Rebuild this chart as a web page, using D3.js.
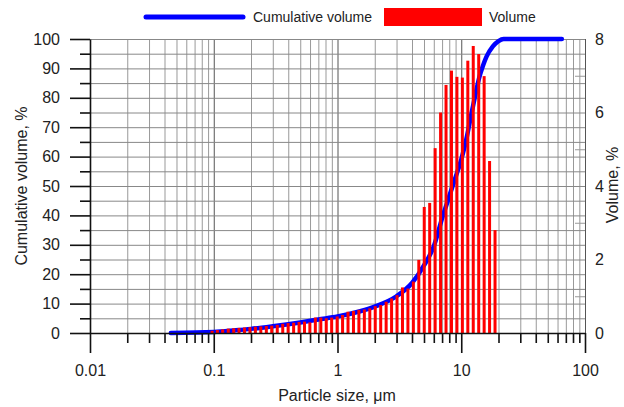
<!DOCTYPE html>
<html>
<head>
<meta charset="utf-8">
<script src="https://cdn.jsdelivr.net/npm/d3@7"></script>
<style>
  body { margin: 0; background: #fff; }
  svg { display: block; font-family: "Liberation Sans", Arial, sans-serif; }
  .lbl text { fill: #222; font-size: 16px; }
</style>
</head>
<body>
<script>
/*--- datos ---*/
// particle size of each bin, um
let binSize = [0.097, 0.107, 0.118, 0.131, 0.145, 0.160, 0.177, 0.196, 0.217, 0.240,
               0.266, 0.294, 0.326, 0.361, 0.399, 0.442, 0.489, 0.541, 0.598, 0.662,
               0.733, 0.811, 0.897, 0.993, 1.099, 1.216, 1.346, 1.489, 1.648, 1.824,
               2.018, 2.234, 2.472, 2.735, 3.027, 3.350, 3.707, 4.102, 4.539, 5.023,
               5.559, 6.152, 6.808, 7.534, 8.337, 9.226, 10.21, 11.30, 12.50, 13.84,
               15.31, 16.94, 18.75];
// volume, %
let binVolume = [0.06, 0.08, 0.10, 0.12, 0.13, 0.14, 0.15, 0.16, 0.17, 0.18,
                 0.19, 0.20, 0.22, 0.25, 0.27, 0.28, 0.30, 0.31, 0.29, 0.42,
                 0.42, 0.40, 0.42, 0.45, 0.49, 0.58, 0.60, 0.63, 0.64, 0.67,
                 0.73, 0.76, 0.85, 0.94, 1.03, 1.24, 1.21, 1.40, 1.99, 3.43,
                 3.54, 5.03, 6.00, 6.75, 7.14, 6.97, 6.95, 7.41, 7.81, 7.59,
                 6.99, 4.68, 2.80];

// cumulative volume curve
let cumSize  = [0.045, 0.1, 0.15, 0.2, 0.3, 0.4, 0.5, 0.7, 1, 1.5, 2, 3, 4, 5, 6, 7, 8, 9,
                10, 11, 12, 13, 14, 15, 16, 18, 20, 22, 30, 50, 65];
let cumValue = [0, 0.3, 0.9, 1.4, 2.3, 3.0, 3.6, 4.6, 5.6, 7.3, 9.0, 12.5, 17, 23, 29.5, 39, 46.5, 53,
                59, 66, 74, 81, 87, 91, 94, 97.5, 99.3, 100, 100, 100, 100];

let xTicks = [0.01, 0.1, 1, 10, 100];
let yTicks = [0, 10, 20, 30, 40, 50, 60, 70, 80, 90, 100];
let y2Ticks = [0, 2, 4, 6, 8];

/*--- escalas ---*/
let width = 624, height = 407;
let X = d3.scaleLog().domain([0.01, 100]).range([90, 585]);
let Y = d3.scaleLinear().domain([0, 100]).range([333, 39]);
let Y2 = d3.scaleLinear().domain([0, 8]).range([333, 39]);

let minorX = [];
[0.01, 0.1, 1, 10].forEach(function(d) {
    for (let i = 1; i <= 9; i++) minorX.push(+(d * i).toPrecision(2));
});
minorX.push(100);

let svg = d3.select("body").append("svg")
    .attr("width", width)
    .attr("height", height);

/*--- grid ---*/
let gridX = svg.append("g")
    .attr("transform", "translate(0,333)")
    .call(d3.axisBottom(X).tickValues(minorX).tickSize(-(333 - 39)).tickFormat(""));
gridX.select(".domain").remove();
gridX.selectAll("line")
    .attr("stroke", function(d) { return xTicks.indexOf(d) >= 0 ? "#555" : "#999"; })
    .attr("stroke-width", 1);

let gridY = svg.append("g")
    .attr("transform", "translate(90,0)")
    .call(d3.axisLeft(Y).tickValues(d3.range(5, 101, 5)).tickSize(-(585 - 90)).tickFormat(""));
gridY.select(".domain").remove();
gridY.selectAll("line").attr("stroke", "#888").attr("stroke-width", 1);

/*--- cumulative line ---*/
let linea = d3.line()
    .x(function(d, i) { return X(cumSize[i]); })
    .y(function(d) { return Y(d); })
    .curve(d3.curveMonotoneX);

svg.append("path")
    .datum(cumValue)
    .attr("fill", "none")
    .attr("stroke", "#0000ff")
    .attr("stroke-width", 4.5)
    .attr("stroke-linejoin", "round")
    .attr("stroke-linecap", "round")
    .attr("d", linea);

/*--- bars ---*/
svg.append("g").selectAll("rect")
    .data(binVolume)
    .join("rect")
    .attr("x", function(d, i) { return X(binSize[i]) - 1.5; })
    .attr("width", 3)
    .attr("y", function(d) { return Y2(d); })
    .attr("height", function(d) { return Y2(0) - Y2(d); })
    .attr("fill", "#ff0000");

/*--- ejes ---*/
// x
let xAxis = svg.append("g").attr("class", "lbl")
    .attr("transform", "translate(0,333)")
    .call(d3.axisBottom(X).tickValues(xTicks).tickSize(20).tickSizeOuter(0).tickPadding(12)
        .tickFormat(function(d) { return String(d); }));
let xMinor = svg.append("g")
    .attr("transform", "translate(0,333)")
    .call(d3.axisBottom(X).tickValues(minorX.filter(function(d) { return xTicks.indexOf(d) < 0; }))
        .tickSize(10).tickSizeOuter(0).tickFormat(""));
xMinor.select(".domain").remove();

// y izquierda
let yAxis = svg.append("g").attr("class", "lbl")
    .attr("transform", "translate(90,0)")
    .call(d3.axisLeft(Y).tickValues(yTicks).tickSize(20).tickSizeOuter(0).tickPadding(10));
let yMinor = svg.append("g")
    .attr("transform", "translate(90,0)")
    .call(d3.axisLeft(Y).tickValues(d3.range(5, 100, 10)).tickSize(10).tickFormat(""));
yMinor.select(".domain").remove();

[xAxis, xMinor, yAxis, yMinor].forEach(function(g) {
    g.selectAll("line, path").attr("stroke", "#111").attr("stroke-width", 1.6);
});

// y derecha
let y2Axis = svg.append("g").attr("class", "lbl")
    .attr("transform", "translate(585,0)")
    .call(d3.axisRight(Y2).tickValues(y2Ticks).tickSize(0).tickPadding(10));
y2Axis.select(".domain").remove();
let y2Minor = svg.append("g")
    .attr("transform", "translate(585,0)")
    .call(d3.axisLeft(Y2).tickValues([1, 3, 5, 7]).tickSize(10).tickFormat(""));
y2Minor.select(".domain").remove();
y2Minor.selectAll("line").attr("stroke", "#999");

svg.selectAll(".lbl text").attr("fill", "#222").style("font-size", "16px");

/*--- titulos ---*/
svg.append("text")
    .attr("transform", "translate(27,186) rotate(-90)")
    .attr("text-anchor", "middle")
    .attr("fill", "#222").style("font-size", "16px")
    .text("Cumulative volume, %");
svg.append("text")
    .attr("transform", "translate(618,185) rotate(-90)")
    .attr("text-anchor", "middle")
    .attr("fill", "#222").style("font-size", "16px")
    .text("Volume, %");
svg.append("text")
    .attr("x", 337).attr("y", 401)
    .attr("text-anchor", "middle")
    .attr("fill", "#222").style("font-size", "16px")
    .text("Particle size, μm");

/*--- leyenda ---*/
let ley = svg.append("g");
ley.append("line")
    .attr("x1", 146).attr("x2", 243).attr("y1", 17).attr("y2", 17)
    .attr("stroke", "#0000ff").attr("stroke-width", 5).attr("stroke-linecap", "round");
ley.append("text").attr("x", 253).attr("y", 22)
    .attr("fill", "#222").style("font-size", "14px").text("Cumulative volume");
ley.append("rect").attr("x", 384).attr("y", 8).attr("width", 98).attr("height", 18)
    .attr("fill", "#ff0000");
ley.append("text").attr("x", 489).attr("y", 22)
    .attr("fill", "#222").style("font-size", "14px").text("Volume");
</script>
</body>
</html>
